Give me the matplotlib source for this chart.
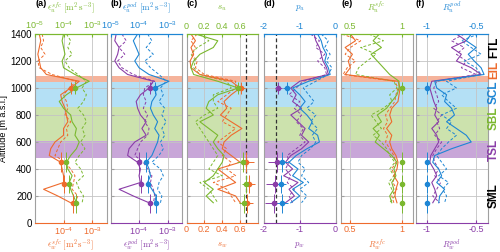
import numpy as np
import matplotlib.pyplot as plt
from matplotlib.transforms import blended_transform_factory

plt.rcParams['font.family'] = ['Liberation Sans', 'DejaVu Sans']
plt.rcParams['font.size'] = 7
plt.rcParams['axes.unicode_minus'] = False
plt.rcParams['mathtext.fontset'] = 'custom'
plt.rcParams['mathtext.rm'] = 'Liberation Sans'
plt.rcParams['mathtext.it'] = 'Liberation Sans:italic'

ORANGE = '#EE6B2D'
GREEN = '#7BB82F'
BLUE = '#1E86D4'
PURPLE = '#8A3DA8'
FRAME = '#a0a0a0'

# ---------------------------------------------------------------------------
# data (altitude in m a.s.l.)
# ---------------------------------------------------------------------------
alt = [1400, 1350, 1300, 1250, 1200, 1150, 1100, 1050, 1000, 950, 900, 850, 800,
       750, 700, 650, 600, 550, 500, 450, 400, 350, 300, 250, 200, 150]

# layer bands: name, bottom, top
band_names = ['EIL', 'SCL', 'SBL', 'TSL']
band_lo = [1046, 860, 608, 485]
band_hi = [1090, 1046, 860, 608]
band_colors = ['#F5B39B', '#B4E0F5', '#CCE2AD', '#C8A6D8']

layer_names = ['FTL', 'EIL', 'SCL', 'SBL', 'TSL', 'SML']
layer_alt = [1300, 1133, 972, 777, 540, 205]
layer_colors = ['black', ORANGE, BLUE, GREEN, PURPLE, 'black']

# (a) log10 of dissipation rate, surface-based
eps_u_sfc = [-4.0, -4.05, -4.0, -3.95, -4.05, -4.0, -3.6, -3.1, -3.55, -3.9, -4.15, -4.0, -3.75,
             -3.7, -3.55, -3.6, -3.45, -3.55, -3.75, -3.9, -3.85, -3.7, -3.8, -3.75, -3.65, -3.55]
eps_u_sfc_d = [-3.9, -3.75, -3.85, -3.7, -3.95, -3.8, -3.5, -3.2, -3.35, -3.2, -3.3, -3.5, -3.3,
               -3.2, -3.35, -3.25, -3.4, -3.25, -3.45, -3.6, -3.4, -3.3, -3.55, -3.45, -3.3, -3.35]
eps_w_sfc = [-4.85, -4.8, -4.85, -4.9, -4.85, -4.8, -4.6, -3.45, -3.75, -4.1, -4.05, -3.95, -3.9,
             -3.85, -4.0, -4.0, -4.3, -4.45, -4.5, -4.1, -4.05, -4.0, -4.0, -4.7, -4.2, -3.75]
eps_w_sfc_d = [-4.75, -4.7, -4.8, -4.65, -4.9, -4.85, -4.4, -3.55, -3.8, -4.0, -3.9, -3.85, -3.95,
               -3.75, -3.9, -3.85, -4.1, -4.2, -4.3, -3.95, -3.75, -3.6, -3.65, -3.7, -3.5, -3.6]

# (b) log10 of dissipation rate, pod-based
eps_u_pod = [-4.05, -4.2, -4.1, -4.0, -4.15, -4.0, -3.65, -2.95, -3.45, -3.4, -3.55, -3.6, -3.5,
             -3.35, -3.45, -3.3, -3.35, -3.45, -3.55, -3.75, -3.65, -3.6, -3.7, -3.55, -3.4, -3.45]
eps_u_pod_d = [-3.7, -3.55, -3.75, -3.5, -3.8, -3.6, -3.3, -3.05, -3.25, -3.15, -3.3, -3.1, -3.2,
               -3.05, -3.2, -3.1, -3.25, -3.15, -3.3, -3.55, -3.25, -3.15, -3.3, -3.35, -3.2, -3.25]
eps_w_pod = [-4.8, -4.85, -4.7, -4.75, -4.85, -4.7, -4.4, -3.5, -3.65, -3.95, -4.1, -4.05, -3.95,
             -3.75, -3.9, -3.75, -4.15, -4.35, -4.4, -4.05, -3.95, -4.0, -3.95, -4.7, -4.2, -3.65]
eps_w_pod_d = [-4.6, -4.45, -4.7, -4.5, -4.75, -4.6, -4.2, -3.45, -3.8, -3.85, -3.75, -3.85, -3.7,
               -3.8, -3.65, -3.7, -3.95, -4.05, -4.15, -3.85, -3.7, -3.55, -3.6, -3.5, -3.45, -3.5]

# (c) structure function slope
s_u = [0.1, 0.35, 0.3, 0.15, 0.08, 0.05, 0.08, 0.35, 0.58, 0.35, 0.25, 0.22, 0.3,
       0.15, 0.25, 0.35, 0.3, 0.35, 0.42, 0.4, 0.35, 0.3, 0.2, 0.3, 0.22, 0.3]
s_u_d = [0.15, 0.25, 0.12, 0.05, 0.1, 0.08, 0.15, 0.45, 0.5, 0.3, 0.3, 0.35, 0.2,
         0.1, 0.15, 0.2, 0.25, 0.3, 0.35, 0.3, 0.25, 0.4, 0.15, 0.25, 0.3, 0.35]
s_w = [0.05, 0.1, 0.05, 0.08, 0.04, 0.05, 0.15, 0.5, 0.6, 0.5, 0.42, 0.45, 0.38,
       0.5, 0.62, 0.5, 0.42, 0.4, 0.5, 0.6, 0.35, 0.45, 0.55, 0.35, 0.55, 0.6]
s_w_d = [0.12, 0.05, 0.1, 0.06, 0.12, 0.1, 0.2, 0.55, 0.55, 0.45, 0.35, 0.5, 0.45,
         0.4, 0.55, 0.45, 0.35, 0.45, 0.4, 0.5, 0.45, 0.55, 0.3, 0.45, 0.5, 0.55]
s_ref = 2 / 3

# (d) spectral slope
p_u = [-0.5, -0.4, -0.35, -0.25, -0.3, -0.2, -0.15, -0.75, -1.2, -1.0, -0.85, -1.0, -0.8,
       -0.65, -0.75, -0.5, -0.45, -0.8, -1.1, -1.3, -1.05, -1.2, -0.9, -1.2, -1.0, -1.25]
p_u_d = [-0.4, -0.2, -0.3, -0.15, -0.25, -0.1, -0.2, -0.55, -0.9, -0.75, -0.6, -0.8, -0.55,
         -0.7, -0.5, -0.65, -0.55, -0.7, -0.95, -1.05, -0.85, -0.95, -0.75, -1.0, -0.8, -0.95]
p_w = [-0.6, -0.55, -0.45, -0.4, -0.35, -0.25, -0.2, -1.0, -1.25, -1.1, -1.2, -0.95, -1.25,
       -1.05, -0.85, -0.95, -0.75, -0.95, -1.25, -1.4, -1.2, -1.45, -1.05, -1.3, -1.15, -1.4]
p_w_d = [-0.7, -0.45, -0.55, -0.3, -0.5, -0.3, -0.25, -0.9, -1.1, -1.3, -1.0, -1.15, -0.95,
         -1.1, -0.9, -1.0, -0.85, -1.1, -1.35, -1.3, -1.4, -1.25, -1.35, -1.15, -1.3, -1.2]
p_ref = -5 / 3

# (e) correlation, surface-based
r_u_sfc = [0.78, 0.72, 0.8, 0.7, 0.76, 0.82, 0.88, 0.97, 0.97, 0.95, 0.9, 0.85, 0.76,
           0.8, 0.72, 0.78, 0.74, 0.82, 0.9, 0.95, 0.92, 0.94, 0.9, 0.92, 0.88, 0.9]
r_u_sfc_d = [0.68, 0.82, 0.6, 0.75, 0.66, 0.58, 0.55, 0.92, 0.95, 0.88, 0.9, 0.82, 0.7,
             0.75, 0.8, 0.72, 0.8, 0.85, 0.88, 0.93, 0.88, 0.92, 0.87, 0.9, 0.93, 0.88]
r_w_sfc = [0.5, 0.55, 0.45, 0.52, 0.48, 0.5, 0.45, 0.96, 0.98, 0.97, 0.96, 0.9, 0.88,
           0.9, 0.85, 0.9, 0.88, 0.9, 0.94, 0.96, 0.95, 0.92, 0.96, 0.94, 0.93, 0.95]
r_w_sfc_d = [0.42, 0.6, 0.5, 0.45, 0.55, 0.47, 0.43, 0.93, 0.96, 0.94, 0.93, 0.88, 0.84,
             0.86, 0.82, 0.86, 0.84, 0.88, 0.92, 0.94, 0.9, 0.93, 0.91, 0.95, 0.9, 0.92]

# (f) correlation, pod-based
r_u_pod = [-0.55, -0.6, -0.5, -0.58, -0.52, -0.45, -0.42, -0.92, -0.9, -0.8, -0.82, -0.75, -0.72,
           -0.8, -0.7, -0.6, -0.55, -0.75, -0.92, -0.94, -0.88, -0.85, -0.9, -0.82, -0.87, -0.88]
r_u_pod_d = [-0.48, -0.65, -0.55, -0.45, -0.62, -0.5, -0.45, -0.8, -0.7, -0.85, -0.78, -0.7, -0.85,
             -0.75, -0.8, -0.7, -0.78, -0.85, -0.9, -0.85, -0.8, -0.88, -0.78, -0.84, -0.8, -0.82]
r_w_pod = [-0.7, -0.6, -0.75, -0.65, -0.7, -0.55, -0.45, -0.95, -0.97, -0.95, -0.93, -0.9, -0.92,
           -0.88, -0.95, -0.9, -0.88, -0.92, -0.96, -0.97, -0.93, -0.9, -0.95, -0.92, -0.9, -0.94]
r_w_pod_d = [-0.62, -0.75, -0.62, -0.7, -0.6, -0.65, -0.5, -0.9, -0.93, -0.9, -0.88, -0.93, -0.85,
             -0.9, -0.87, -0.92, -0.85, -0.9, -0.94, -0.92, -0.88, -0.92, -0.86, -0.9, -0.94, -0.87]

# leg-averaged estimates (markers)
mk_alt = [1000, 450, 290, 145]
mk_alt_err = [45, 75, 65, 70]
mk_eps_u_sfc = [2.6e-4, 1.25e-4, 1.55e-4, 2.75e-4]
mk_eps_w_sfc = [1.8e-4, 8.1e-5, 1.06e-4, 2.1e-4]
mk_eps_u_pod = [3.7e-4, 1.7e-4, 2.0e-4, 3.8e-4]
mk_eps_w_pod = [2.5e-4, 9.6e-5, 1.15e-4, 2.5e-4]
mk_s_u = [0.58, 0.63, 0.67, 0.64]
mk_s_u_err = [0.04, 0.06, 0.05, 0.05]
mk_s_w = [0.61, 0.67, 0.70, 0.68]
mk_s_w_err = [0.05, 0.08, 0.07, 0.06]
mk_p_u = [-1.37, -1.49, -1.53, -1.49]
mk_p_u_err = [0.1, 0.15, 0.15, 0.15]
mk_p_w = [-1.6, -1.65, -1.7, -1.72]
mk_p_w_err = [0.1, 0.25, 0.25, 0.25]
mk_r_sfc = [1.0, 1.0, 1.0, 1.0]
mk_r_pod = [-1.0, -1.0, -1.0, -1.0]

unit = r'\ [\mathrm{m^2\,s^{-3}}]'

panels = [
    dict(letter='(a)', log=True, xlim=(1e-5, 3.2e-3),
         top=(eps_u_sfc, eps_u_sfc_d, GREEN), bot=(eps_w_sfc, eps_w_sfc_d, ORANGE),
         mk_top=(mk_eps_u_sfc, None), mk_bot=(mk_eps_w_sfc, None),
         top_ticks=[1e-5, 1e-4, 1e-3], top_lbl=['$10^{-5}$', '$10^{-4}$', '$10^{-3}$'],
         bot_ticks=[1e-4, 1e-3], bot_lbl=['$10^{-4}$', '$10^{-3}$'],
         top_name=r'$\epsilon_u^{sfc}' + unit + '$', bot_name=r'$\epsilon_w^{sfc}' + unit + '$'),
    dict(letter='(b)', log=True, xlim=(1e-5, 3.2e-3),
         top=(eps_u_pod, eps_u_pod_d, BLUE), bot=(eps_w_pod, eps_w_pod_d, PURPLE),
         mk_top=(mk_eps_u_pod, None), mk_bot=(mk_eps_w_pod, None),
         top_ticks=[1e-5, 1e-4, 1e-3], top_lbl=['$10^{-5}$', '$10^{-4}$', '$10^{-3}$'],
         bot_ticks=[1e-4, 1e-3], bot_lbl=['$10^{-4}$', '$10^{-3}$'],
         top_name=r'$\epsilon_u^{pod}' + unit + '$', bot_name=r'$\epsilon_w^{pod}' + unit + '$'),
    dict(letter='(c)', log=False, xlim=(0, 0.8), ref=s_ref,
         top=(s_u, s_u_d, GREEN), bot=(s_w, s_w_d, ORANGE),
         mk_top=(mk_s_u, mk_s_u_err), mk_bot=(mk_s_w, mk_s_w_err),
         top_ticks=[0, 0.2, 0.4, 0.6], top_lbl=['0', '0.2', '0.4', '0.6'],
         bot_ticks=[0, 0.2, 0.4, 0.6], bot_lbl=['0', '0.2', '0.4', '0.6'],
         top_name=r'$s_u$', bot_name=r'$s_w$'),
    dict(letter='(d)', log=False, xlim=(-2, 0), ref=p_ref,
         top=(p_u, p_u_d, BLUE), bot=(p_w, p_w_d, PURPLE),
         mk_top=(mk_p_u, mk_p_u_err), mk_bot=(mk_p_w, mk_p_w_err),
         top_ticks=[-2, -1, 0], top_lbl=['-2', '-1', '0'],
         bot_ticks=[-2, -1, 0], bot_lbl=['-2', '-1', '0'],
         top_name=r'$p_u$', bot_name=r'$p_w$'),
    dict(letter='(e)', log=False, xlim=(0.41, 1.1),
         top=(r_u_sfc, r_u_sfc_d, GREEN), bot=(r_w_sfc, r_w_sfc_d, ORANGE),
         mk_top=(mk_r_sfc, None), mk_bot=None,
         top_ticks=[0.5, 1], top_lbl=['0.5', '1'],
         bot_ticks=[0.5, 1], bot_lbl=['0.5', '1'],
         top_name=r'$R_u^{sfc}$', bot_name=r'$R_w^{sfc}$'),
    dict(letter='(f)', log=False, xlim=(-1.11, -0.385),
         top=(r_u_pod, r_u_pod_d, BLUE), bot=(r_w_pod, r_w_pod_d, PURPLE),
         mk_top=(mk_r_pod, None), mk_bot=None,
         top_ticks=[-1, -0.5], top_lbl=['-1', '-0.5'],
         bot_ticks=[-1, -0.5], bot_lbl=['-1', '-0.5'],
         top_name=r'$R_u^{pod}$', bot_name=r'$R_w^{pod}$'),
]

fig = plt.figure(figsize=(5.0, 2.52), dpi=100)
lefts_px = [35, 110.5, 186.5, 264, 341, 416]
w_px = 71.5

for i, p in enumerate(panels):
    ax = fig.add_axes([lefts_px[i] / 500, 29 / 252, w_px / 500, 189 / 252])
    if p['log']:
        ax.set_xscale('log')
    conv = (lambda v: 10 ** np.array(v)) if p['log'] else (lambda v: np.array(v))

    for lo, hi, col in zip(band_lo, band_hi, band_colors):
        ax.axhspan(lo, hi, color=col, lw=0, zorder=0)

    if 'ref' in p:
        ax.axvline(p['ref'], color='#333333', ls='--', lw=0.9, dashes=(3, 2), zorder=4)

    for (solid, dash, col) in (p['bot'], p['top']):
        ax.plot(conv(dash), alt, color=col, lw=0.7, ls='--', dashes=(3, 2), zorder=3)
    for (solid, dash, col) in (p['bot'], p['top']):
        ax.plot(conv(solid), alt, color=col, lw=0.8, zorder=3)

    for mk, col in ((p['mk_bot'], p['bot'][2]), (p['mk_top'], p['top'][2])):
        if mk is None:
            continue
        vals, xerr = mk
        ax.errorbar(vals, mk_alt, yerr=mk_alt_err, xerr=xerr, fmt='o', ms=3,
                    color=col, ecolor=col, elinewidth=0.7, capsize=0, zorder=5)

    ax.set_xlim(*p['xlim'])
    ax.set_ylim(0, 1400)
    ax.set_yticks(range(0, 1401, 200))
    ax.set_xticks(p['bot_ticks'])
    ax.set_xticklabels(p['bot_lbl'])
    ax.minorticks_off()
    ax.grid(True, color='#c4c4c4', lw=0.6, zorder=1)
    ax.set_axisbelow(True)
    bcol = p['bot'][2]
    tcol = p['top'][2]
    ax.tick_params(axis='x', direction='in', length=2, pad=1.5, colors=bcol, labelsize=6.5)
    ax.tick_params(axis='y', direction='in', length=2, pad=2, color=FRAME, labelsize=7,
                   labelleft=(i == 0))
    for s in ('left', 'right'):
        ax.spines[s].set_color(FRAME)
    ax.spines['bottom'].set_color(bcol)
    ax.spines['top'].set_color(tcol)

    axt = ax.twiny()
    if p['log']:
        axt.set_xscale('log')
    axt.set_xlim(*p['xlim'])
    axt.set_xticks(p['top_ticks'])
    axt.set_xticklabels(p['top_lbl'])
    axt.minorticks_off()
    axt.tick_params(axis='x', direction='in', length=2, pad=2.5, colors=tcol, labelsize=6.5)
    for s in ('left', 'right', 'bottom'):
        axt.spines[s].set_visible(False)
    axt.spines['top'].set_color(tcol)

    ax.text(0.5, 1.135, p['top_name'], transform=ax.transAxes, ha='center', va='center',
            color=tcol, fontsize=6.5, math_fontfamily='cm')
    ax.text(0.5, -0.118, p['bot_name'], transform=ax.transAxes, ha='center', va='center',
            color=bcol, fontsize=6.3, math_fontfamily='cm')
    ax.text(0.0, 1.16, p['letter'], transform=ax.transAxes, ha='left', va='center',
            fontsize=6.5, fontweight='bold')

    if i == 0:
        ax.set_ylabel('Altitude [m a.s.l.]', fontsize=6.5, labelpad=2)
    if i == len(panels) - 1:
        tr = blended_transform_factory(ax.transAxes, ax.transData)
        for name, z, col in zip(layer_names, layer_alt, layer_colors):
            ax.text(1.09, z, name, transform=tr, rotation=90, ha='center', va='center',
                    fontsize=8.5, fontweight='bold', color=col)

fig.savefig('out.png', dpi=100)
